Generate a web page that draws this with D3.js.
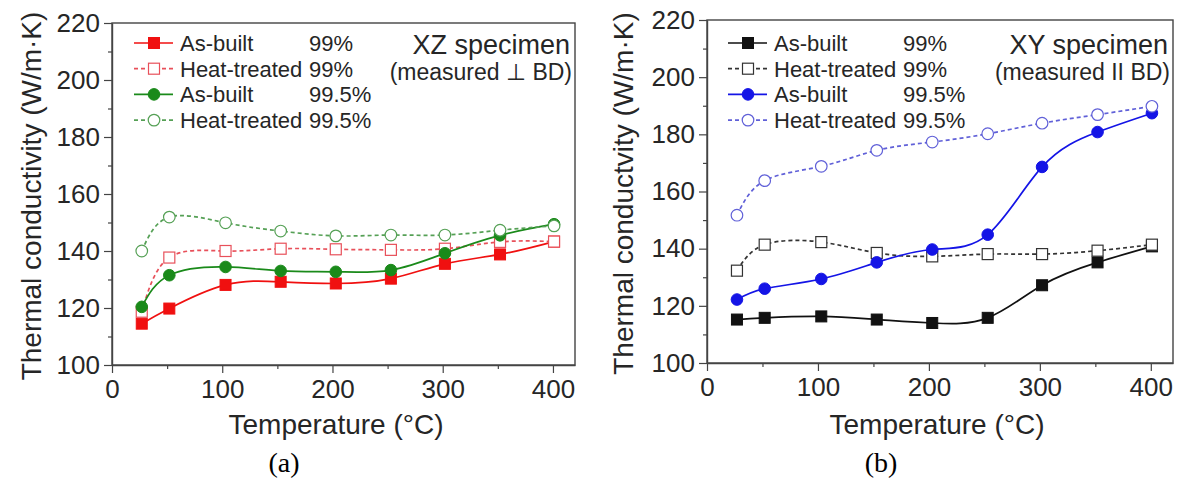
<!DOCTYPE html>
<html>
<head>
<meta charset="utf-8">
<script src="https://cdn.jsdelivr.net/npm/d3@7"></script>
<style>
  body { margin: 0; background: #fff; }
  svg { display: block; font-family: "Liberation Sans", Arial, sans-serif; }
</style>
</head>
<body>
<div id="vis"></div>
<script>
// frame size
const FRAME_WIDTH = 1182;
const FRAME_HEIGHT = 482;

// data
const TEMPS = [27, 52, 103, 153, 203, 253, 302, 352, 401];

// (a) XZ specimen
const XZ_ASBUILT_99 = [114.5, 119.8, 128.1, 129.2, 128.6, 130.3, 135.5, 138.8, 143.3];
const XZ_HEAT_99 = [118.7, 137.7, 140.0, 140.8, 140.6, 140.4, 140.8, 143.2, 143.3];
const XZ_ASBUILT_995 = [120.4, 131.5, 134.4, 133.0, 132.7, 133.3, 139.2, 145.5, 149.4];
const XZ_HEAT_995 = [140.0, 151.9, 149.9, 147.0, 145.3, 145.6, 145.6, 147.3, 148.8];

// (b) XY specimen
const XY_ASBUILT_99 = [115.2, 115.8, 116.3, 115.2, 114.0, 115.8, 127.2, 135.2, 140.8];
const XY_HEAT_99 = [132.3, 141.4, 142.3, 138.5, 137.3, 138.1, 138.1, 139.3, 141.4];
const XY_ASBUILT_995 = [122.2, 126.0, 129.4, 135.2, 139.7, 144.9, 168.6, 180.8, 187.4];
const XY_HEAT_995 = [151.7, 163.8, 168.8, 174.4, 177.3, 180.2, 183.9, 186.9, 189.8];

// legend texts
const LEGEND_LABELS = ["As-built", "Heat-treated", "As-built", "Heat-treated"];
const LEGEND_VALUES = ["99%", "99%", "99.5%", "99.5%"];

// ticks
const X_TICKS = [0, 100, 200, 300, 400];
const X_MINOR = [50, 150, 250, 350];
const Y_TICKS = [100, 120, 140, 160, 180, 200, 220];
const Y_MINOR = [110, 130, 150, 170, 190, 210];

const FRAME = d3.select("#vis")
  .append("svg")
    .attr("width", FRAME_WIDTH)
    .attr("height", FRAME_HEIGHT);

// panel definitions
const PANELS = [
  {
    left: 112, right: 575, top: 23, bottom: 365,
    yTitle: "Thermal conductivity (W/m\u00B7K)", yTitleX: 41,
    title: "XZ specimen", subtitle: "(measured \u22A5 BD)",
    tag: "(a)", tagX: 284, xTitleX: 336,
    legendX: 134,
    series: [
      {values: XZ_ASBUILT_99, color: "#f01010", mark: "square", filled: true, dash: null},
      {values: XZ_HEAT_99, color: "#e8505a", mark: "square", filled: false, dash: "4,3"},
      {values: XZ_ASBUILT_995, color: "#1a8a1a", mark: "circle", filled: true, dash: null},
      {values: XZ_HEAT_995, color: "#55a055", mark: "circle", filled: false, dash: "4,3"}
    ]
  },
  {
    left: 707, right: 1173, top: 20, bottom: 363,
    yTitle: "Thermal conductvity (W/m\u00B7K)", yTitleX: 633,
    title: "XY specimen", subtitle: "(measured II BD)",
    tag: "(b)", tagX: 881, xTitleX: 937,
    legendX: 728,
    series: [
      {values: XY_ASBUILT_99, color: "#111111", mark: "square", filled: true, dash: null},
      {values: XY_HEAT_99, color: "#333333", mark: "square", filled: false, dash: "4,3"},
      {values: XY_ASBUILT_995, color: "#1414e6", mark: "circle", filled: true, dash: null},
      {values: XY_HEAT_995, color: "#6060d8", mark: "circle", filled: false, dash: "4,3"}
    ]
  }
];

// draws one marker centred on (x, y)
function drawMarker(g, s, x, y) {
  if (s.mark === "square") {
    g.append("rect")
      .attr("x", x - 5.5).attr("y", y - 5.5)
      .attr("width", 11).attr("height", 11)
      .attr("fill", s.filled ? s.color : "#fff")
      .attr("stroke", s.color)
      .attr("stroke-width", s.filled ? 1 : 1.2);
  } else {
    g.append("circle")
      .attr("cx", x).attr("cy", y).attr("r", 5.8)
      .attr("fill", s.filled ? s.color : "#fff")
      .attr("stroke", s.color)
      .attr("stroke-width", s.filled ? 1 : 1.2);
  }
}

PANELS.forEach((p) => {
  const X_SCALE = d3.scaleLinear().domain([0, 420]).range([p.left, p.right]);
  const Y_SCALE = d3.scaleLinear().domain([100, 220]).range([p.bottom, p.top]);

  // box around the plot
  FRAME.append("rect")
    .attr("x", p.left).attr("y", p.top)
    .attr("width", p.right - p.left).attr("height", p.bottom - p.top)
    .attr("fill", "none")
    .attr("stroke", "#444")
    .attr("stroke-width", 1.4);

  // minor ticks
  FRAME.append("g")
    .attr("transform", "translate(0," + p.bottom + ")")
    .call(d3.axisBottom(X_SCALE).tickValues(X_MINOR).tickSize(4).tickFormat("").tickSizeOuter(0))
    .call(g => g.select(".domain").remove())
    .call(g => g.selectAll("line").attr("stroke", "#444").attr("stroke-width", 1.2));
  FRAME.append("g")
    .attr("transform", "translate(" + p.left + ",0)")
    .call(d3.axisLeft(Y_SCALE).tickValues(Y_MINOR).tickSize(4).tickFormat("").tickSizeOuter(0))
    .call(g => g.select(".domain").remove())
    .call(g => g.selectAll("line").attr("stroke", "#444").attr("stroke-width", 1.2));

  // major x axis
  FRAME.append("g")
    .attr("transform", "translate(0," + p.bottom + ")")
    .call(d3.axisBottom(X_SCALE).tickValues(X_TICKS).tickSize(8).tickPadding(7).tickSizeOuter(0))
    .call(g => g.select(".domain").attr("stroke", "#444").attr("stroke-width", 1.4))
    .call(g => g.selectAll("line").attr("stroke", "#444").attr("stroke-width", 1.2))
    .call(g => g.selectAll("text")
      .attr("font-size", "26px")
      .attr("font-family", "Liberation Sans, Arial, sans-serif")
      .attr("fill", "#262626"));

  // major y axis
  FRAME.append("g")
    .attr("transform", "translate(" + p.left + ",0)")
    .call(d3.axisLeft(Y_SCALE).tickValues(Y_TICKS).tickSize(8).tickPadding(4).tickSizeOuter(0))
    .call(g => g.select(".domain").attr("stroke", "#444").attr("stroke-width", 1.4))
    .call(g => g.selectAll("line").attr("stroke", "#444").attr("stroke-width", 1.2))
    .call(g => g.selectAll("text")
      .attr("font-size", "26px")
      .attr("font-family", "Liberation Sans, Arial, sans-serif")
      .attr("fill", "#262626"));

  // axis titles
  FRAME.append("text")
    .attr("transform", "translate(" + p.yTitleX + "," + ((p.top + p.bottom) / 2 + 2) + ") rotate(-90)")
    .attr("text-anchor", "middle")
    .attr("font-size", "28px")
    .attr("fill", "#262626")
    .text(p.yTitle);

  FRAME.append("text")
    .attr("x", p.xTitleX)
    .attr("y", 434)
    .attr("text-anchor", "middle")
    .attr("font-size", "28px")
    .attr("fill", "#262626")
    .text("Temperature (\u00B0C)");

  // panel tag
  FRAME.append("text")
    .attr("x", p.tagX)
    .attr("y", 472)
    .attr("text-anchor", "middle")
    .attr("font-family", "Liberation Serif, Times New Roman, serif")
    .attr("font-size", "28px")
    .attr("fill", "#000")
    .text(p.tag);

  // specimen label
  FRAME.append("text")
    .attr("x", p.right - 5).attr("y", 54)
    .attr("text-anchor", "end")
    .attr("font-size", "27px")
    .attr("fill", "#262626")
    .text(p.title);
  FRAME.append("text")
    .attr("x", p.right - 3).attr("y", 80)
    .attr("text-anchor", "end")
    .attr("font-size", "23px")
    .attr("fill", "#262626")
    .text(p.subtitle);

  // curves and points
  p.series.forEach((s) => {
    const pts = TEMPS.map((t, i) => [t, s.values[i]]);
    const line = d3.line()
      .x(d => X_SCALE(d[0]))
      .y(d => Y_SCALE(d[1]))
      .curve(d3.curveNatural);
    FRAME.append("path")
      .attr("d", line(pts))
      .attr("fill", "none")
      .attr("stroke", s.color)
      .attr("stroke-width", 1.7)
      .attr("stroke-dasharray", s.dash);
    const g = FRAME.append("g");
    pts.forEach(d => drawMarker(g, s, X_SCALE(d[0]), Y_SCALE(d[1])));
  });

  // legend
  p.series.forEach((s, i) => {
    const ly = 43 + i * 25.7;
    const g = FRAME.append("g");
    g.append("line")
      .attr("x1", p.legendX).attr("x2", p.legendX + 39)
      .attr("y1", ly).attr("y2", ly)
      .attr("stroke", s.color)
      .attr("stroke-width", 1.7)
      .attr("stroke-dasharray", s.dash);
    drawMarker(g, s, p.legendX + 20, ly);
    g.append("text")
      .attr("x", p.legendX + 46).attr("y", ly + 8)
      .attr("font-size", "22px")
      .attr("fill", "#262626")
      .text(LEGEND_LABELS[i]);
    g.append("text")
      .attr("x", p.legendX + 175).attr("y", ly + 8)
      .attr("font-size", "22px")
      .attr("fill", "#262626")
      .text(LEGEND_VALUES[i]);
  });
});
</script>
</body>
</html>
